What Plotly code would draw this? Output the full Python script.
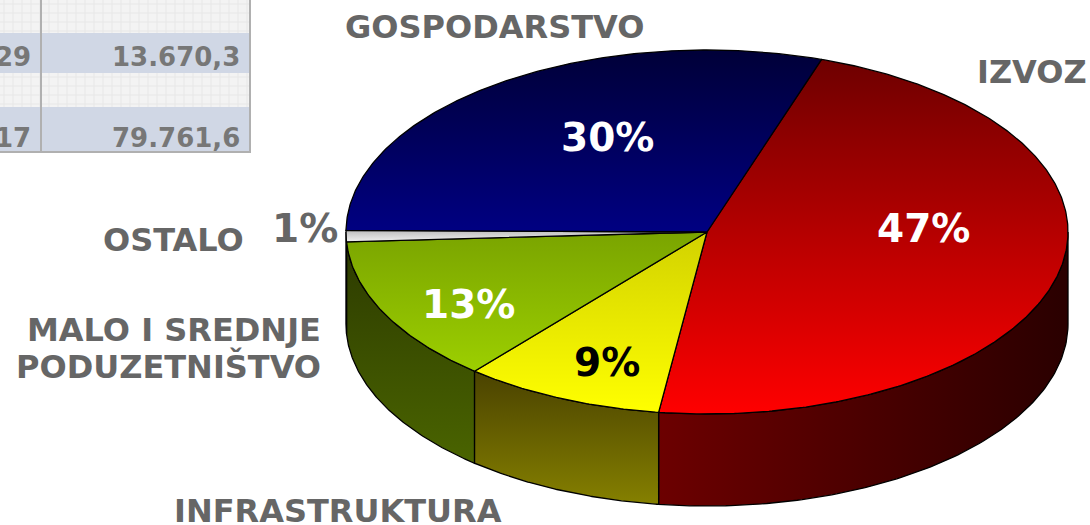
import numpy as np
import plotly.graph_objects as go

# ---------------- data ----------------
categories = ["IZVOZ", "INFRASTRUKTURA", "MALO I SREDNJE PODUZETNIŠTVO", "OSTALO", "GOSPODARSTVO"]
shares = [47, 9, 13, 1, 30]
pct_labels = ["47%", "9%", "13%", "1%", "30%"]

table_left = ["29", "17"]
table_right = ["13.670,3", "79.761,6"]

# ---------------- layout / style ----------------
W, H = 1090, 525
CX, CY, RX, RY, DEPTH = 707, 232, 361, 182, 92
START = 18.5  # degrees clockwise from top

top_grad = [("#6e0000", "#ff0000"), ("#d2d200", "#ffff00"), ("#7aa400", "#9ccf00"),
            ("#bdbdbd", "#f0f0f0"), ("#000038", "#000082")]
side_grad = [("#6c0000", "#2a0000", "horizontal"), ("#4a4200", "#858000", "vertical"),
             ("#2c3a00", "#4a6400", "vertical"), ("#9a9a9a", "#9a9a9a", "vertical"),
             ("#000040", "#000040", "vertical")]
label_polar = [(88, 0.60), (201, 0.77), (239, 0.77), None, (332, 0.59)]
label_colors = ["white", "black", "white", "#666666", "white"]


def pt(theta, r=1.0, dz=0.0):
    t = np.radians(theta)
    return CX + RX * r * np.sin(t), CY - RY * r * np.cos(t) + dz


fig = go.Figure()

# angles
bounds = []
a = START
for s in shares:
    bounds.append((a, a + s / sum(shares) * 360))
    a += s / sum(shares) * 360

# sides (front half: 90..270)
for i, (a0, a1) in enumerate(bounds):
    for off in (0, 360):
        lo, hi = max(a0 - off, 90), min(a1 - off, 270)
        if hi <= lo:
            continue
        th = np.linspace(lo, hi, 120)
        xt, yt = pt(th)
        xb, yb = pt(th[::-1], dz=DEPTH)
        xs = np.concatenate([xt, xb, xt[:1]])
        ys = np.concatenate([yt, yb, yt[:1]])
        c0, c1, gtype = side_grad[i]
        if gtype == "horizontal":
            g = dict(type="horizontal", colorscale=[[0, c0], [1, c1]],
                     start=float(xt.min()), stop=float(xt.max()))
        else:
            g = dict(type="vertical", colorscale=[[0, c0], [1, c1]],
                     start=float(yt.min()), stop=float(yb.max()))
        fig.add_trace(go.Scatter(x=xs, y=ys, mode="lines", fill="toself",
                                 fillgradient=g, line=dict(color="black", width=1.3),
                                 hoverinfo="skip", showlegend=False))

# top faces
for i, (a0, a1) in enumerate(bounds):
    th = np.linspace(a0, a1, max(int((a1 - a0) * 2), 4))
    xa, ya = pt(th)
    xs = np.concatenate([[CX], xa, [CX]])
    ys = np.concatenate([[CY], ya, [CY]])
    c0, c1 = top_grad[i]
    g = dict(type="vertical", colorscale=[[0, c0], [1, c1]],
             start=float(ys.min()), stop=float(ys.max()))
    fig.add_trace(go.Scatter(x=xs, y=ys, mode="lines", fill="toself",
                             fillgradient=g, line=dict(color="black", width=1.3),
                             hoverinfo="skip", showlegend=False))

annotations = []
# percentage labels
for i, lp in enumerate(label_polar):
    if lp is None:
        continue
    x, y = pt(lp[0], lp[1])
    annotations.append(dict(x=x, y=y, text=pct_labels[i], showarrow=False,
                            font=dict(family="DejaVu Sans", size=39, color=label_colors[i]),
                            xanchor="center", yanchor="middle"))
# 1% outside
annotations.append(dict(x=340, y=228, text=pct_labels[3], showarrow=False, xanchor="right",
                        yanchor="middle",
                        font=dict(family="DejaVu Sans", size=39, color="#666666")))

lab_font = dict(family="DejaVu Sans", size=32, color="#666666")
annotations += [
    dict(x=494, y=27, text="<b>GOSPODARSTVO</b>", xanchor="center"),
    dict(x=975, y=72, text="<b>IZVOZ</b>", xanchor="left"),
    dict(x=246, y=240, text="<b>OSTALO</b>", xanchor="right"),
    dict(x=323, y=330, text="<b>MALO I SREDNJE</b>", xanchor="right"),
    dict(x=323, y=366, text="<b>PODUZETNIŠTVO</b>", xanchor="right"),
    dict(x=338, y=511, text="<b>INFRASTRUKTURA</b>", xanchor="center"),
]
for an in annotations[-6:]:
    an.update(showarrow=False, yanchor="middle", font=lab_font)
for an in annotations[:5]:
    an["text"] = "<b>" + an["text"] + "</b>"

# ---------------- table ----------------
shapes = []
rows = [(0, 33, "#f3f3f3"), (33, 73, "#d0d7e5"), (73, 107, "#f3f3f3"), (107, 152, "#d0d7e5")]
for y0, y1, col in rows:
    shapes.append(dict(type="rect", x0=0, x1=250, y0=y0, y1=y1, fillcolor=col,
                       line=dict(width=0), layer="below"))
    if col == "#f3f3f3":
        for gx in np.arange(4, 250, 9):
            shapes.append(dict(type="line", x0=gx, x1=gx, y0=y0, y1=y1,
                               line=dict(color="#e7e7e7", width=1), layer="below"))
        for gy in np.arange(y0 + 4, y1, 9):
            shapes.append(dict(type="line", x0=0, x1=250, y0=gy, y1=gy,
                               line=dict(color="#e7e7e7", width=1), layer="below"))
shapes.append(dict(type="line", x0=41, x1=41, y0=0, y1=152, line=dict(color="#b0b0b0", width=2)))
shapes.append(dict(type="line", x0=250, x1=250, y0=0, y1=153, line=dict(color="#b0b0b0", width=2)))
shapes.append(dict(type="line", x0=0, x1=251, y0=152, y1=152, line=dict(color="#b0b0b0", width=2)))

tfont = dict(family="DejaVu Sans", size=26, color="#777777")
for k, yc in enumerate([57, 138]):
    annotations.append(dict(x=33, y=yc, text="<b>" + table_left[k] + "</b>", xanchor="right",
                            yanchor="middle", showarrow=False, font=tfont))
    annotations.append(dict(x=242, y=yc, text="<b>" + table_right[k] + "</b>", xanchor="right",
                            yanchor="middle", showarrow=False, font=tfont))

fig.update_layout(
    width=W, height=H, autosize=False,
    margin=dict(l=0, r=0, t=0, b=0),
    paper_bgcolor="white", plot_bgcolor="white",
    xaxis=dict(range=[0, W], visible=False, fixedrange=True),
    yaxis=dict(range=[H, 0], visible=False, fixedrange=True),
    shapes=shapes, annotations=annotations,
)

fig.write_html("out.html", post_script="document.body.style.margin='0';",
               config={"displayModeBar": False})
